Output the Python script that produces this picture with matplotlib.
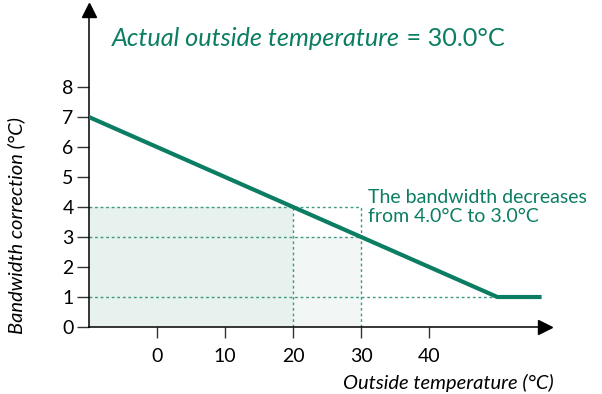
import matplotlib.pyplot as plt

plt.rcParams['font.family'] = ['Lato', 'DejaVu Sans']

# curve: bandwidth correction vs outside temperature
temp = [-10, 50, 56.5]
correction = [7, 1, 1]

x_ticks = [0, 10, 20, 30, 40]
y_ticks = [0, 1, 2, 3, 4, 5, 6, 7, 8]

ref_temp = 20        # previous point
actual_temp = 30     # actual outside temperature
bw_before = 4.0
bw_after = 3.0
bw_min = 1.0

green = '#0b7d62'
dots = '#3c9a85'

fig = plt.figure(figsize=(6.02, 3.94), dpi=100)
ax = fig.add_axes([89 / 602, 67 / 394, 456 / 602, 317 / 394])
ax.set_xlim(-10, 57)
ax.set_ylim(0, 10.57)

# shaded areas
ax.fill_between([-10, ref_temp], 0, bw_before, color='#e7f1ed', lw=0, zorder=1)
ax.fill_between([ref_temp, actual_temp], 0, bw_after, color='#f2f7f5', lw=0, zorder=1)

# dotted guide lines
ls = (0, (2, 2))
ax.plot([-10, actual_temp], [bw_before, bw_before], color=dots, lw=1, ls=ls, zorder=2)
ax.plot([-10, actual_temp], [bw_after, bw_after], color=dots, lw=1, ls=ls, zorder=2)
ax.plot([-10, temp[1]], [bw_min, bw_min], color=dots, lw=1, ls=ls, zorder=2)
ax.plot([ref_temp, ref_temp], [0, bw_before], color=dots, lw=1, ls=ls, zorder=2)
ax.plot([actual_temp, actual_temp], [0, bw_before], color=dots, lw=1, ls=ls, zorder=2)

# main curve
ax.plot(temp, correction, color=green, lw=3, solid_capstyle='butt', zorder=3)

# axes with arrows
for s in ['top', 'right']:
    ax.spines[s].set_visible(False)
ax.spines['left'].set_linewidth(1.1)
ax.spines['bottom'].set_linewidth(1.1)
ax.plot(1, 0, '>k', ms=10, transform=ax.get_yaxis_transform(), clip_on=False)
ax.plot(-10, 1, '^k', ms=10, transform=ax.get_xaxis_transform(), clip_on=False)

ax.set_xticks(x_ticks)
ax.set_yticks(y_ticks)
ax.tick_params(axis='x', length=8, width=1, pad=7, labelsize=14, color='#333333')
ax.tick_params(axis='y', length=9, width=1, pad=2, labelsize=14, color='#333333')

ax.set_xlabel('Outside temperature (°C)', fontsize=14.5, style='italic',
              ha='right', va='center')
ax.xaxis.set_label_coords(1.02, -0.178)
ax.set_ylabel('Bandwidth correction (°C)', fontsize=14.5, style='italic')
ax.yaxis.set_label_coords(-0.14, 0.32)

t1 = fig.text(112 / 602, 1 - 46 / 394, 'Actual outside temperature', color=green,
              fontsize=18.2, style='italic', va='baseline')
fig.canvas.draw()
bb = t1.get_window_extent(fig.canvas.get_renderer())
fig.text(bb.x1 / fig.bbox.width, 1 - 46 / 394, ' = 30.0°C', color=green,
         fontsize=18.2, va='baseline')

ax.text(actual_temp + 1.0, bw_before + 0.6, 'The bandwidth decreases\nfrom 4.0°C to 3.0°C',
        color=green, fontsize=14, va='top', ha='left', linespacing=1.15)

fig.savefig('out.png', dpi=100)
